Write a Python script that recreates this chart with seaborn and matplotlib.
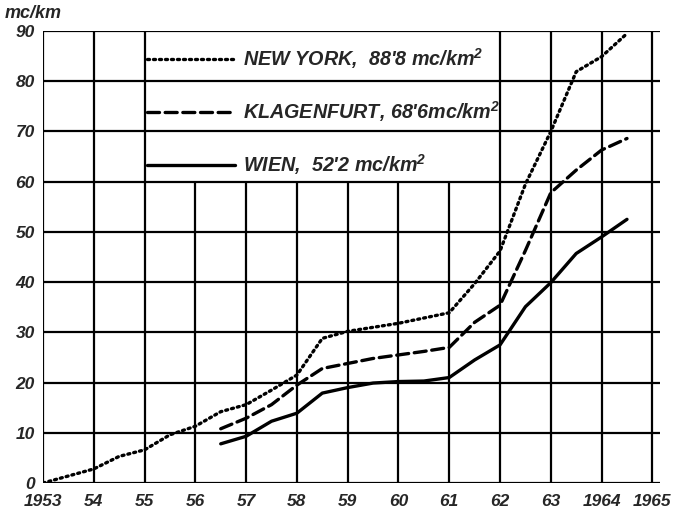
import numpy as np
import pandas as pd
import seaborn as sns
import matplotlib.pyplot as plt

# values (mc per km)
ny_years = [1953, 1954, 1954.5, 1955, 1955.5, 1956, 1956.5, 1957, 1957.5, 1958, 1958.5,
            1959, 1960, 1961, 1961.5, 1962, 1962.5, 1963, 1963.5, 1964, 1964.5]
ny_vals = [0, 2.8, 5.3, 6.6, 9.6, 11.3, 14.2, 15.6, 18.5, 21.5, 28.8,
           30.2, 31.8, 33.9, 39.7, 46.2, 59.5, 70.0, 81.9, 84.9, 89.5]

kl_years = [1956.5, 1957, 1957.5, 1958, 1958.5, 1959, 1959.5, 1960, 1960.5, 1961,
            1961.5, 1962, 1962.5, 1963, 1963.5, 1964, 1964.5]
kl_vals = [10.8, 12.9, 15.6, 19.5, 22.8, 23.8, 24.8, 25.5, 26.2, 27.0,
           32.0, 35.4, 46.3, 57.8, 62.3, 66.3, 68.6]

wi_years = kl_years
wi_vals = [7.8, 9.3, 12.3, 13.9, 17.9, 19.0, 19.9, 20.2, 20.3, 21.0,
           24.5, 27.5, 35.1, 39.9, 45.7, 49.0, 52.5]

labels = ["NEW YORK,  88'8 mc/km$^2$", "KLAGENFURT, 68'6mc/km$^2$", "WIEN,  52'2 mc/km$^2$"]

x_ticks = list(range(1953, 1966))
x_ticklabels = ["1953", "54", "55", "56", "57", "58", "59", "60", "61", "62", "63", "1964", "1965"]
y_ticks = list(range(0, 91, 10))

sns.set_style("white")
plt.rcParams['font.family'] = ['Liberation Sans', 'DejaVu Sans']
plt.rcParams['font.style'] = 'italic'
plt.rcParams['font.weight'] = 'bold'
plt.rcParams['mathtext.fontset'] = 'custom'
plt.rcParams['mathtext.rm'] = 'Liberation Sans:italic:bold'
plt.rcParams['mathtext.default'] = 'regular'

fig = plt.figure(figsize=(6.8, 5.11), dpi=100)
ax = fig.add_axes([43 / 680, 28 / 511, 617 / 680, 452 / 511])

# grid: horizontal lines full width, vertical lines under the legend stop at 60
ax.hlines(y_ticks, 1953, 1965.15, color='black', lw=1.6, zorder=1)
for yr in x_ticks:
    top = 60 if 1956 <= yr <= 1961 else 90
    ax.vlines(yr, 0, top, color='black', lw=1.6, zorder=1)

series = [(ny_years, ny_vals, (0, (0.6, 1.2))),
          (kl_years, kl_vals, (0, (3.6, 1.7))),
          (wi_years, wi_vals, '-')]
for (xs, ys, ls), lab in zip(series, labels):
    df = pd.DataFrame({'year': xs, 'val': ys})
    sns.lineplot(data=df, x='year', y='val', ax=ax, color='black', lw=2.4,
                 linestyle=ls, label=lab, zorder=3, dash_capstyle='round')

leg = ax.legend(loc='upper left', bbox_to_anchor=(0.168, 0.967), frameon=False,
                fontsize=14.2, handlelength=4.5, handletextpad=0.4, labelspacing=1.42,
                borderpad=0, borderaxespad=0)

ax.set_xlim(1953, 1965.15)
ax.set_ylim(0, 90)
ax.set_xticks(x_ticks)
ax.set_xticklabels(x_ticklabels)
ax.set_xticks(np.arange(1953.5, 1965, 1.0), minor=True)
ax.set_yticks(y_ticks)
ax.tick_params(axis='both', which='both', direction='out', length=5, width=1.5,
               color='black', labelsize=12.5, pad=1)
ax.tick_params(axis='x', which='major', length=0, pad=8)
for sp in ax.spines.values():
    sp.set_visible(False)
ax.set_xlabel('')
ax.set_ylabel('')

fig.text(5 / 680, 1 - 13 / 511, 'mc/km', fontsize=13, ha='left', va='center')

fig.savefig('out.png', dpi=100)
